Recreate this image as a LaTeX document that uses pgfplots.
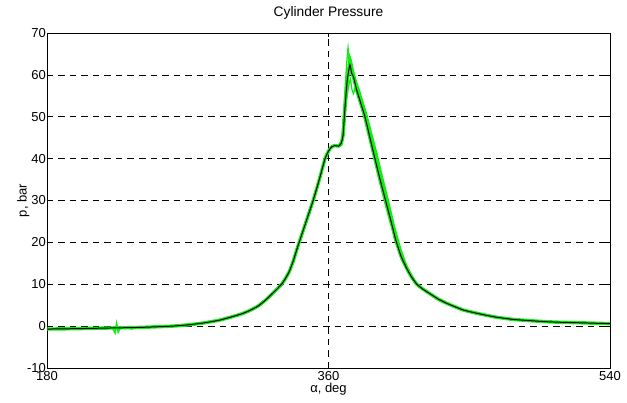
\documentclass[border=0pt]{standalone}
\usepackage{pgfplots}
\pgfplotsset{compat=1.18}
\usepackage{fontspec}
\setmainfont{Liberation Sans}
\definecolor{lgreen}{RGB}{20,235,20}
\pgfplotstableread{
x y
180 -0.7
200 -0.6
220 -0.45
240 -0.3
260 0.0
270 0.3
280 0.75
290 1.4
298 2.2
305 3.0
310 3.8
315 4.8
320 6.3
325 8.1
330 10.0
332.5 11.4
335 13.1
337.5 15.6
340 18.6
342.5 21.4
345 24.2
347.5 27.0
350 29.8
352.5 32.9
355 36.2
357.8 40.0
360 41.8
362 42.8
364 43.1
366.5 43.0
368 43.6
369.3 45.5
370.5 52.0
372 58.8
373.7 62.4
374.8 60.4
376 59.5
378 56.4
380 54.0
383.3 50.0
386.5 45.0
389.7 40.0
393 35.0
396.5 30.0
400 25.0
403 20.6
406.5 16.6
410 13.8
413 11.8
416.5 10.0
420.5 8.8
425 7.7
430 6.5
435.6 5.45
446.2 3.85
456.9 2.9
467 2.15
478.2 1.6
489 1.3
499.5 1.05
510 0.9
520.8 0.8
530 0.7
540 0.6
}\meancurve
\pgfplotstableread{
x y
366 43.0
368.3 44.5
369.5 50.0
370.8 58.0
371.8 63.5
372.5 66.5
373.2 62.5
374.5 63.5
376 60.8
378 58.2
380 56.0
383 52.0
386.5 46.5
390 41.5
393 37.0
396.5 31.5
400 26.5
403 22.0
}\cycleA
\pgfplotstableread{
x y
366 43.0
368.5 43.2
370 48.0
371.5 54.0
373 57.5
374 59.0
375 56.5
376 55.5
377 57.0
379 55.0
381.5 51.5
385 46.5
388.5 41.0
392 35.5
396 29.5
400 24.0
}\cycleB
\pgfplotstableread{
x y
372 60.0
373.5 64.5
375 62.0
377.5 58.5
380.5 55.0
384 51.0
387.5 46.0
391 41.0
394.5 35.5
398.5 29.5
402 24.0
406 18.6
410 14.4
414 11.6
}\cycleC
\pgfplotstableread{
x y
219 -0.45
222 -0.5
223.5 -1.6
224.5 0.6
225.5 -1.4
227 -0.4
231 -0.55
232.5 -0.1
234 -0.7
236 -0.35
}\blip
\begin{document}
\begin{tikzpicture}
\begin{axis}[
  scale only axis,
  width=563bp, height=335bp,
  xmin=180, xmax=540, ymin=-10, ymax=70,
  xtick={180,360,540},
  ytick={-10,0,10,20,30,40,50,60,70},
  xmajorgrids, ymajorgrids,
  grid style={black, line width=0.7pt, dash pattern=on 6.5bp off 5bp},
  axis line style={line width=0.9pt},
  tick align=inside,
  major tick length=4bp,
  tick style={black, line width=0.7pt},
  font=\fontsize{13bp}{15bp}\selectfont,
  ticklabel style={font=\fontsize{13bp}{15bp}\selectfont},
  /pgf/number format/assume math mode=true,
  yticklabel style={inner sep=0.5bp, xshift=-0.5bp},
  xticklabel style={inner sep=1bp, yshift=-2bp},
  title={Cylinder Pressure},
  title style={at={(0.5,1)}, anchor=south, yshift=6bp, inner sep=1bp, font=\fontsize{13.8bp}{16bp}\selectfont},
  xlabel={α, deg},
  ylabel={p, bar},
  xlabel style={inner sep=0pt, yshift=-1bp},
  ylabel style={inner sep=0pt, yshift=-3bp},
]
\addplot[lgreen, line width=3.4pt, smooth, tension=0.3] table[x=x,y=y] {\meancurve};
\addplot[lgreen, line width=1.3pt, smooth, tension=0.2] table[x=x,y=y] {\cycleA};
\addplot[lgreen, line width=1.3pt, smooth, tension=0.2] table[x=x,y=y] {\cycleB};
\addplot[lgreen, line width=1.6pt, smooth, tension=0.2] table[x=x,y=y] {\cycleC};
\addplot[lgreen, line width=1.6pt] table[x=x,y=y] {\blip};
\addplot[black, line width=1.0pt, smooth, tension=0.3] table[x=x,y=y] {\meancurve};
\end{axis}
\pgfresetboundingbox
\path[use as bounding box] (-47bp,-35bp) rectangle (580bp,368bp);
\end{tikzpicture}
\end{document}
